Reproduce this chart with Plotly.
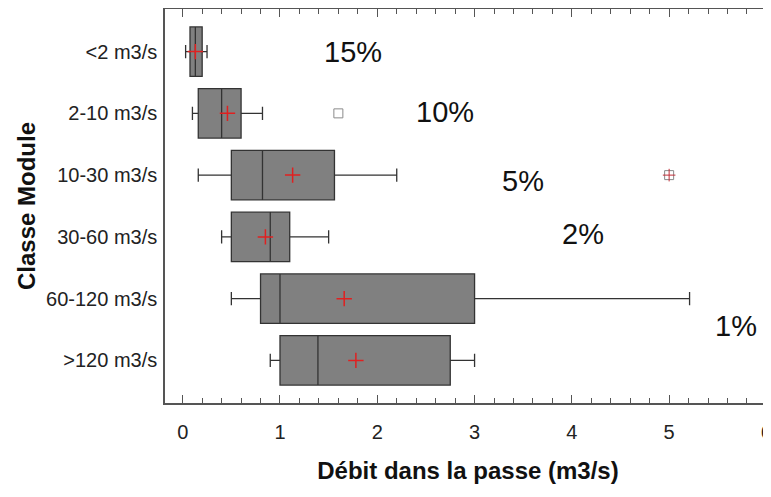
import plotly.graph_objects as go

categories = ["<2 m3/s", "2-10 m3/s", "10-30 m3/s", "30-60 m3/s", "60-120 m3/s", ">120 m3/s"]
q1 = [0.075, 0.16, 0.50, 0.50, 0.80, 1.00]
median = [0.13, 0.40, 0.82, 0.90, 1.00, 1.39]
q3 = [0.20, 0.60, 1.56, 1.10, 3.00, 2.75]
lower_whisker = [0.03, 0.10, 0.16, 0.40, 0.50, 0.90]
upper_whisker = [0.25, 0.82, 2.20, 1.50, 5.21, 3.00]
means = [0.13, 0.46, 1.13, 0.85, 1.66, 1.78]

outlier_x = [1.60, 5.00]
outlier_cat = ["2-10 m3/s", "10-30 m3/s"]
outlier_mean_x = [5.00]
outlier_mean_cat = ["10-30 m3/s"]

pct_labels = ["15%", "10%", "5%", "2%", "1%"]
pct_x = [1.75, 2.70, 3.50, 4.11, 5.69]
pct_y = [0.0, 0.97, 2.1, 2.95, 4.45]

FONT = "Liberation Sans, Arial, sans-serif"

fig = go.Figure()
fig.add_trace(go.Box(
    y=categories, q1=q1, median=median, q3=q3,
    lowerfence=lower_whisker, upperfence=upper_whisker,
    orientation="h", width=0.8, whiskerwidth=0.27,
    fillcolor="#808080", line=dict(color="#333333", width=1.3),
    boxpoints=False, showlegend=False,
))
fig.add_trace(go.Scatter(
    x=outlier_x, y=outlier_cat, mode="markers",
    marker=dict(symbol="square-open", size=9, color="#8a8a8a", line=dict(width=1)),
    showlegend=False,
))
fig.add_trace(go.Scatter(
    x=outlier_mean_x, y=outlier_mean_cat, mode="markers",
    marker=dict(symbol="cross-thin", size=9, line=dict(color="#c0303a", width=1)),
    showlegend=False,
))
fig.add_trace(go.Scatter(
    x=means, y=categories, mode="markers",
    marker=dict(symbol="cross-thin", size=11, line=dict(color="#e02020", width=1.5)),
    showlegend=False,
))

for lbl, xv, yv in zip(pct_labels, pct_x, pct_y):
    fig.add_annotation(x=xv, y=yv, text=lbl, showarrow=False, xref="x", yref="y",
                       font=dict(family=FONT, size=29, color="#111111"))

fig.update_layout(
    width=771, height=497,
    margin=dict(l=157, r=8, t=1, b=102, autoexpand=False),
    plot_bgcolor="white", paper_bgcolor="white",
    font=dict(family=FONT, color="#111111"),
)
fig.update_xaxes(
    automargin=False,
    range=[-0.182, 6.047], showgrid=False, zeroline=False,
    showline=True, linecolor="#555555", linewidth=1.5, mirror="allticks",
    ticks="inside", ticklen=8, tickcolor="#555555", tickwidth=1,
    tickvals=[0, 1, 2, 3, 4, 5, 6],
    minor=dict(dtick=0.2, ticks="inside", ticklen=5, tickcolor="#555555", tickwidth=1),
    tickfont=dict(size=20, family=FONT, color="#222222"),
    ticklabelstandoff=10,
    title=dict(text="<b>Débit dans la passe (m3/s)</b>", font=dict(size=24, family=FONT, color="#111111"), standoff=20),
)
fig.update_yaxes(
    automargin=False,
    type="category", categoryorder="array", categoryarray=categories,
    range=[5.69, -0.69], showgrid=False, zeroline=False,
    showline=True, linecolor="#555555", linewidth=1.5, mirror=False,
    ticks="", tickfont=dict(size=20, family=FONT, color="#222222"),
    ticklabelstandoff=2,
    title=dict(text="<b>Classe Module</b>", font=dict(size=24, family=FONT, color="#111111"), standoff=4),
)

fig.write_html("out.html")
